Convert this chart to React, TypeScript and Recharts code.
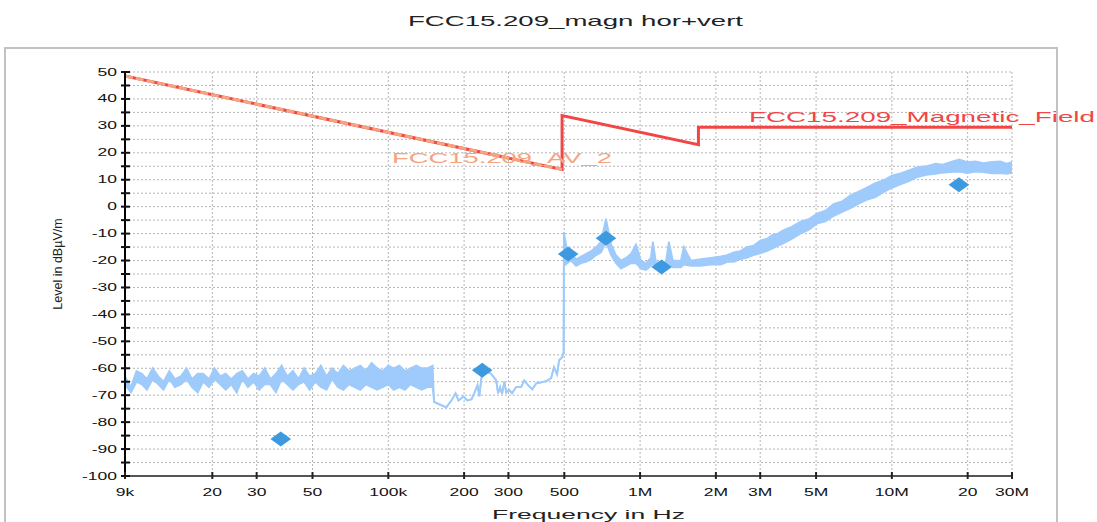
import React from 'react';
import {
  ComposedChart, Area, Line, Scatter, XAxis, YAxis, CartesianGrid,
} from 'recharts';

// x axis (Hz, log) and y axis (dBµV/m)
const xTicks = [9e3, 2e4, 3e4, 5e4, 1e5, 2e5, 3e5, 5e5, 1e6, 2e6, 3e6, 5e6, 1e7, 2e7, 3e7];
const xTickLabels = ['9k', '20', '30', '50', '100k', '200', '300', '500', '1M', '2M', '3M', '5M', '10M', '20', '30M'];
const yTicks = [-100, -95, -90, -85, -80, -75, -70, -65, -60, -55, -50, -45, -40, -35, -30, -25, -20, -15, -10, -5, 0, 5, 10, 15, 20, 25, 30, 35, 40, 45, 50];

// measured trace, frequency in kHz, upper and lower envelope of the sweep
const traceKHz = [
  9, 9.5, 10, 10.5, 11, 11.6, 12.2, 12.8, 13.5, 14.2,
  15, 15.8, 16.6, 17.5, 18.4, 19.4, 20.4, 21.5, 22.6, 23.8,
  25, 26.3, 27.7, 29.2, 30.7, 32.3, 34, 35.8, 37.7, 39.7,
  41.8, 44, 46.3, 48.7, 51.3, 54, 56.8, 59.8, 63, 66.3,
  69.8, 73.5, 77.4, 81.5, 85.8, 90.3, 95, 100, 105, 110.6,
  116.4, 122.5, 129, 135.8, 143, 150,
  152, 162, 170, 178, 185, 190, 199, 206, 214, 220,
  226, 230, 234, 241, 247, 256, 268, 273, 278, 283,
  289, 294, 302, 310, 322, 337, 347, 359, 373, 387,
  405, 424, 443, 455, 468, 477, 490, 497,
  498, 513, 532, 557, 583, 610, 639, 669, 700, 732,
  767, 802, 840, 879, 920, 963, 1008, 1055, 1104, 1124,
  1156, 1210, 1266, 1301, 1350, 1452, 1492, 1591, 1743, 1910,
  2092, 2220, 2355, 2500, 2652, 2820, 3013, 3180, 3362, 3530,
  3718, 4000, 4342, 4700, 5070, 5450, 5866, 6350, 6851, 7350,
  7928, 8600, 9258, 10000, 10810, 11700, 12630, 13700, 14890, 15900,
  17060, 18500, 19930, 21500, 23060, 25000, 26930, 28500, 30000,
];
const traceHi = [
  -63, -67, -61, -62, -64, -60, -63, -65, -61, -64,
  -63, -60, -64, -62, -62, -64, -60, -63, -62, -64,
  -62, -61, -64, -62, -63, -60, -64, -62, -59, -63,
  -61, -64, -60, -63, -62, -59, -63, -60, -62, -59,
  -61, -60, -59, -61, -58, -60, -61, -59, -60, -59,
  -61, -60, -59, -60, -60, -59,
  -72.5, -73.7, -74.5, -72, -69.3, -72, -70.5, -72, -71.5, -69,
  -66.3, -70.4, -63.7, -61.4, -61.4, -62, -64.4, -69.3, -67, -69.6,
  -65, -69, -68, -69.3, -67, -67, -64.5, -66.3, -67.8, -65.6,
  -65.2, -64.8, -63.7, -59.6, -62.2, -57, -56, -54,
  -9.5, -16, -17.5, -19.5, -18.5, -17.5, -16.5, -15, -13, -4.5,
  -14, -18, -20, -19, -17.5, -14, -20, -21, -19, -13,
  -20.5, -21, -20.5, -13, -20, -20, -15, -20, -19.5, -19,
  -18.5, -18, -17, -16.5, -15, -14.5, -12.5, -12, -10.5, -10,
  -8.7, -7.5, -5.5, -4.5, -2.5, -1.5, 1, 2, 4.2, 5.5,
  7, 8.8, 9.8, 11.5, 12.4, 13.5, 14.7, 15, 16, 15.6,
  16.5, 17.5, 16.5, 16.8, 16.2, 16.6, 16.8, 16, 16.5,
];
const traceLo = [
  -66, -69, -65, -66, -68, -64, -66, -68, -64, -67,
  -66, -64, -67, -69, -65, -67, -64, -66, -68, -66,
  -69, -64, -67, -65, -68, -66, -66, -69, -64, -66,
  -68, -66, -65, -68, -65, -67, -68, -64, -67, -68,
  -66, -67, -68, -66, -67, -68, -67, -66, -68, -67,
  -68, -66, -67, -68, -67, -67,
  -72.5, -73.7, -74.5, -72, -69.3, -72, -70.5, -72, -71.5, -69,
  -66.3, -70.4, -63.7, -61.4, -61.4, -62, -64.4, -69.3, -67, -69.6,
  -65, -69, -68, -69.3, -67, -67, -64.5, -66.3, -67.8, -65.6,
  -65.2, -64.8, -63.7, -59.6, -62.2, -57, -56, -54,
  -22, -21, -20, -22, -21, -20.5, -19.5, -18, -17, -13,
  -18, -21, -23, -22, -21, -21, -23, -23.5, -22, -21,
  -23, -24, -23.5, -21, -22.5, -22.5, -21.5, -22, -22, -21.5,
  -21.5, -20.5, -20.5, -19.5, -19, -18, -17.3, -16.5, -15.5, -14.5,
  -13.6, -12, -10, -8.5, -6.2, -5.5, -3.5, -2, -0.6, 1,
  2.5, 3.5, 5.4, 7, 8.3, 9.5, 11, 11.8, 12.2, 12.6,
  12.8, 13, 12.5, 13, 12.8, 12.4, 12.5, 12.2, 12.6,
];

// limit lines (kHz, dBµV/m)
const magneticKHz = [9, 490, 490, 1705, 1705, 30000];
const magneticLevel = [48.5, 13.8, 33.8, 23.0, 29.5, 29.5];
const avKHz = [9, 490];
const avLevel = [48.5, 13.8];

// final measurement markers
const markerKHz = [37.4, 236, 518, 732, 1218, 18460];
const markerLevel = [-86.3, -60.7, -17.6, -11.7, -22.4, 8.1];

const traceRows = traceKHz.map((f, i) => ({ freq: f * 1000, range: [traceLo[i], traceHi[i]] }));
const magneticRows = magneticKHz.map((f, i) => ({ freq: f * 1000, level: magneticLevel[i] }));
const avRows = avKHz.map((f, i) => ({ freq: f * 1000, level: avLevel[i] }));
const markerRows = markerKHz.map((f, i) => ({ freq: f * 1000, level: markerLevel[i] }));

const FONT = '"Liberation Sans", Arial, sans-serif';

const XTick = ({ x, y, payload }: any) => {
  const label = xTickLabels[xTicks.indexOf(payload.value)];
  return (
    <g>
      <line x1={x} x2={x} y1={y - 4} y2={y + 3} stroke="#222" strokeWidth={2} />
      <g transform={`translate(${x},${y + 19.5}) scale(1.75,1)`}>
        <text textAnchor="middle" fontSize={10} fontFamily={FONT} fill="#111">{label}</text>
      </g>
    </g>
  );
};

const YTick = ({ x, y, payload }: any) => {
  const v = payload.value as number;
  return (
    <g>
      <line x1={x - 4} x2={x + 5} y1={y} y2={y} stroke="#111" strokeWidth={2} />
      {v % 10 === 0 && (
        <g transform={`translate(${x - 8},${y + 3.5}) scale(1.75,1)`}>
          <text textAnchor="end" fontSize={10} fontFamily={FONT} fill="#111">{String(v)}</text>
        </g>
      )}
    </g>
  );
};

const Diamond = (p: any) => (
  <polygon
    points={`${p.cx - 10.3},${p.cy} ${p.cx},${p.cy - 7.5} ${p.cx + 10.3},${p.cy} ${p.cx},${p.cy + 7.5}`}
    fill="#3d99e0"
  />
);

export default function App() {
  return (
    <div style={{ position: 'absolute', left: 0, top: 0, width: 1097, height: 522, background: '#fff', overflow: 'hidden' }}>
      <ComposedChart width={1097} height={522} margin={{ top: 72, right: 85, bottom: 16, left: 65 }}>
        <CartesianGrid stroke="#b5b5b5" strokeDasharray="2 2" />
        <XAxis
          dataKey="freq"
          type="number"
          scale="log"
          domain={[9000, 30000000]}
          allowDataOverflow
          ticks={xTicks}
          interval={0}
          height={30}
          tickSize={0}
          tickMargin={0}
          tick={(props: any) => <XTick {...props} />}
          axisLine={{ stroke: '#555', strokeWidth: 2 }}
        />
        <YAxis
          type="number"
          domain={[-100, 50]}
          allowDataOverflow
          ticks={yTicks}
          interval={0}
          width={60}
          tickSize={0}
          tickMargin={0}
          tick={(props: any) => <YTick {...props} />}
          axisLine={{ stroke: '#000', strokeWidth: 2 }}
        />
        <Area
          data={traceRows}
          dataKey="range"
          type="linear"
          stroke="#9ecbfb"
          strokeWidth={1.8}
          fill="#9ecbfb"
          fillOpacity={1}
          dot={false}
          activeDot={false}
          isAnimationActive={false}
        />
        <Line data={magneticRows} dataKey="level" type="linear" stroke="#f24646" strokeWidth={3} dot={false} activeDot={false} isAnimationActive={false} />
        <Line data={avRows} dataKey="level" type="linear" stroke="#f6a47f" strokeWidth={3} strokeDasharray="8 3" dot={false} activeDot={false} isAnimationActive={false} />
        <Scatter data={markerRows} dataKey="level" shape={Diamond} isAnimationActive={false} />
      </ComposedChart>
      <svg width={1097} height={522} style={{ position: 'absolute', left: 0, top: 0, pointerEvents: 'none' }}>
        <rect x={5} y={48} width={1052} height={500} fill="none" stroke="#c2c2c2" strokeWidth={2} />
        <text x={408} y={26} fontSize={15} fontFamily={FONT} fill="#222" textLength={335} lengthAdjust="spacingAndGlyphs">
          FCC15.209_magn hor+vert
        </text>
        <text x={492} y={519} fontSize={13} fontFamily={FONT} fill="#222" textLength={193} lengthAdjust="spacingAndGlyphs">
          Frequency in Hz
        </text>
        <text transform="translate(62,264) rotate(-90)" textAnchor="middle" fontSize={12.5} fontFamily={FONT} fill="#222">
          Level in dBµV/m
        </text>
        <text x={392} y={163} fontSize={14.5} fontFamily={FONT} fill="#f6a47f" textLength={220} lengthAdjust="spacingAndGlyphs">
          FCC15.209_AV_2
        </text>
        <text x={749} y={122} fontSize={15} fontFamily={FONT} fill="#f24646" textLength={346} lengthAdjust="spacingAndGlyphs">
          FCC15.209_Magnetic_Field
        </text>
      </svg>
    </div>
  );
}
